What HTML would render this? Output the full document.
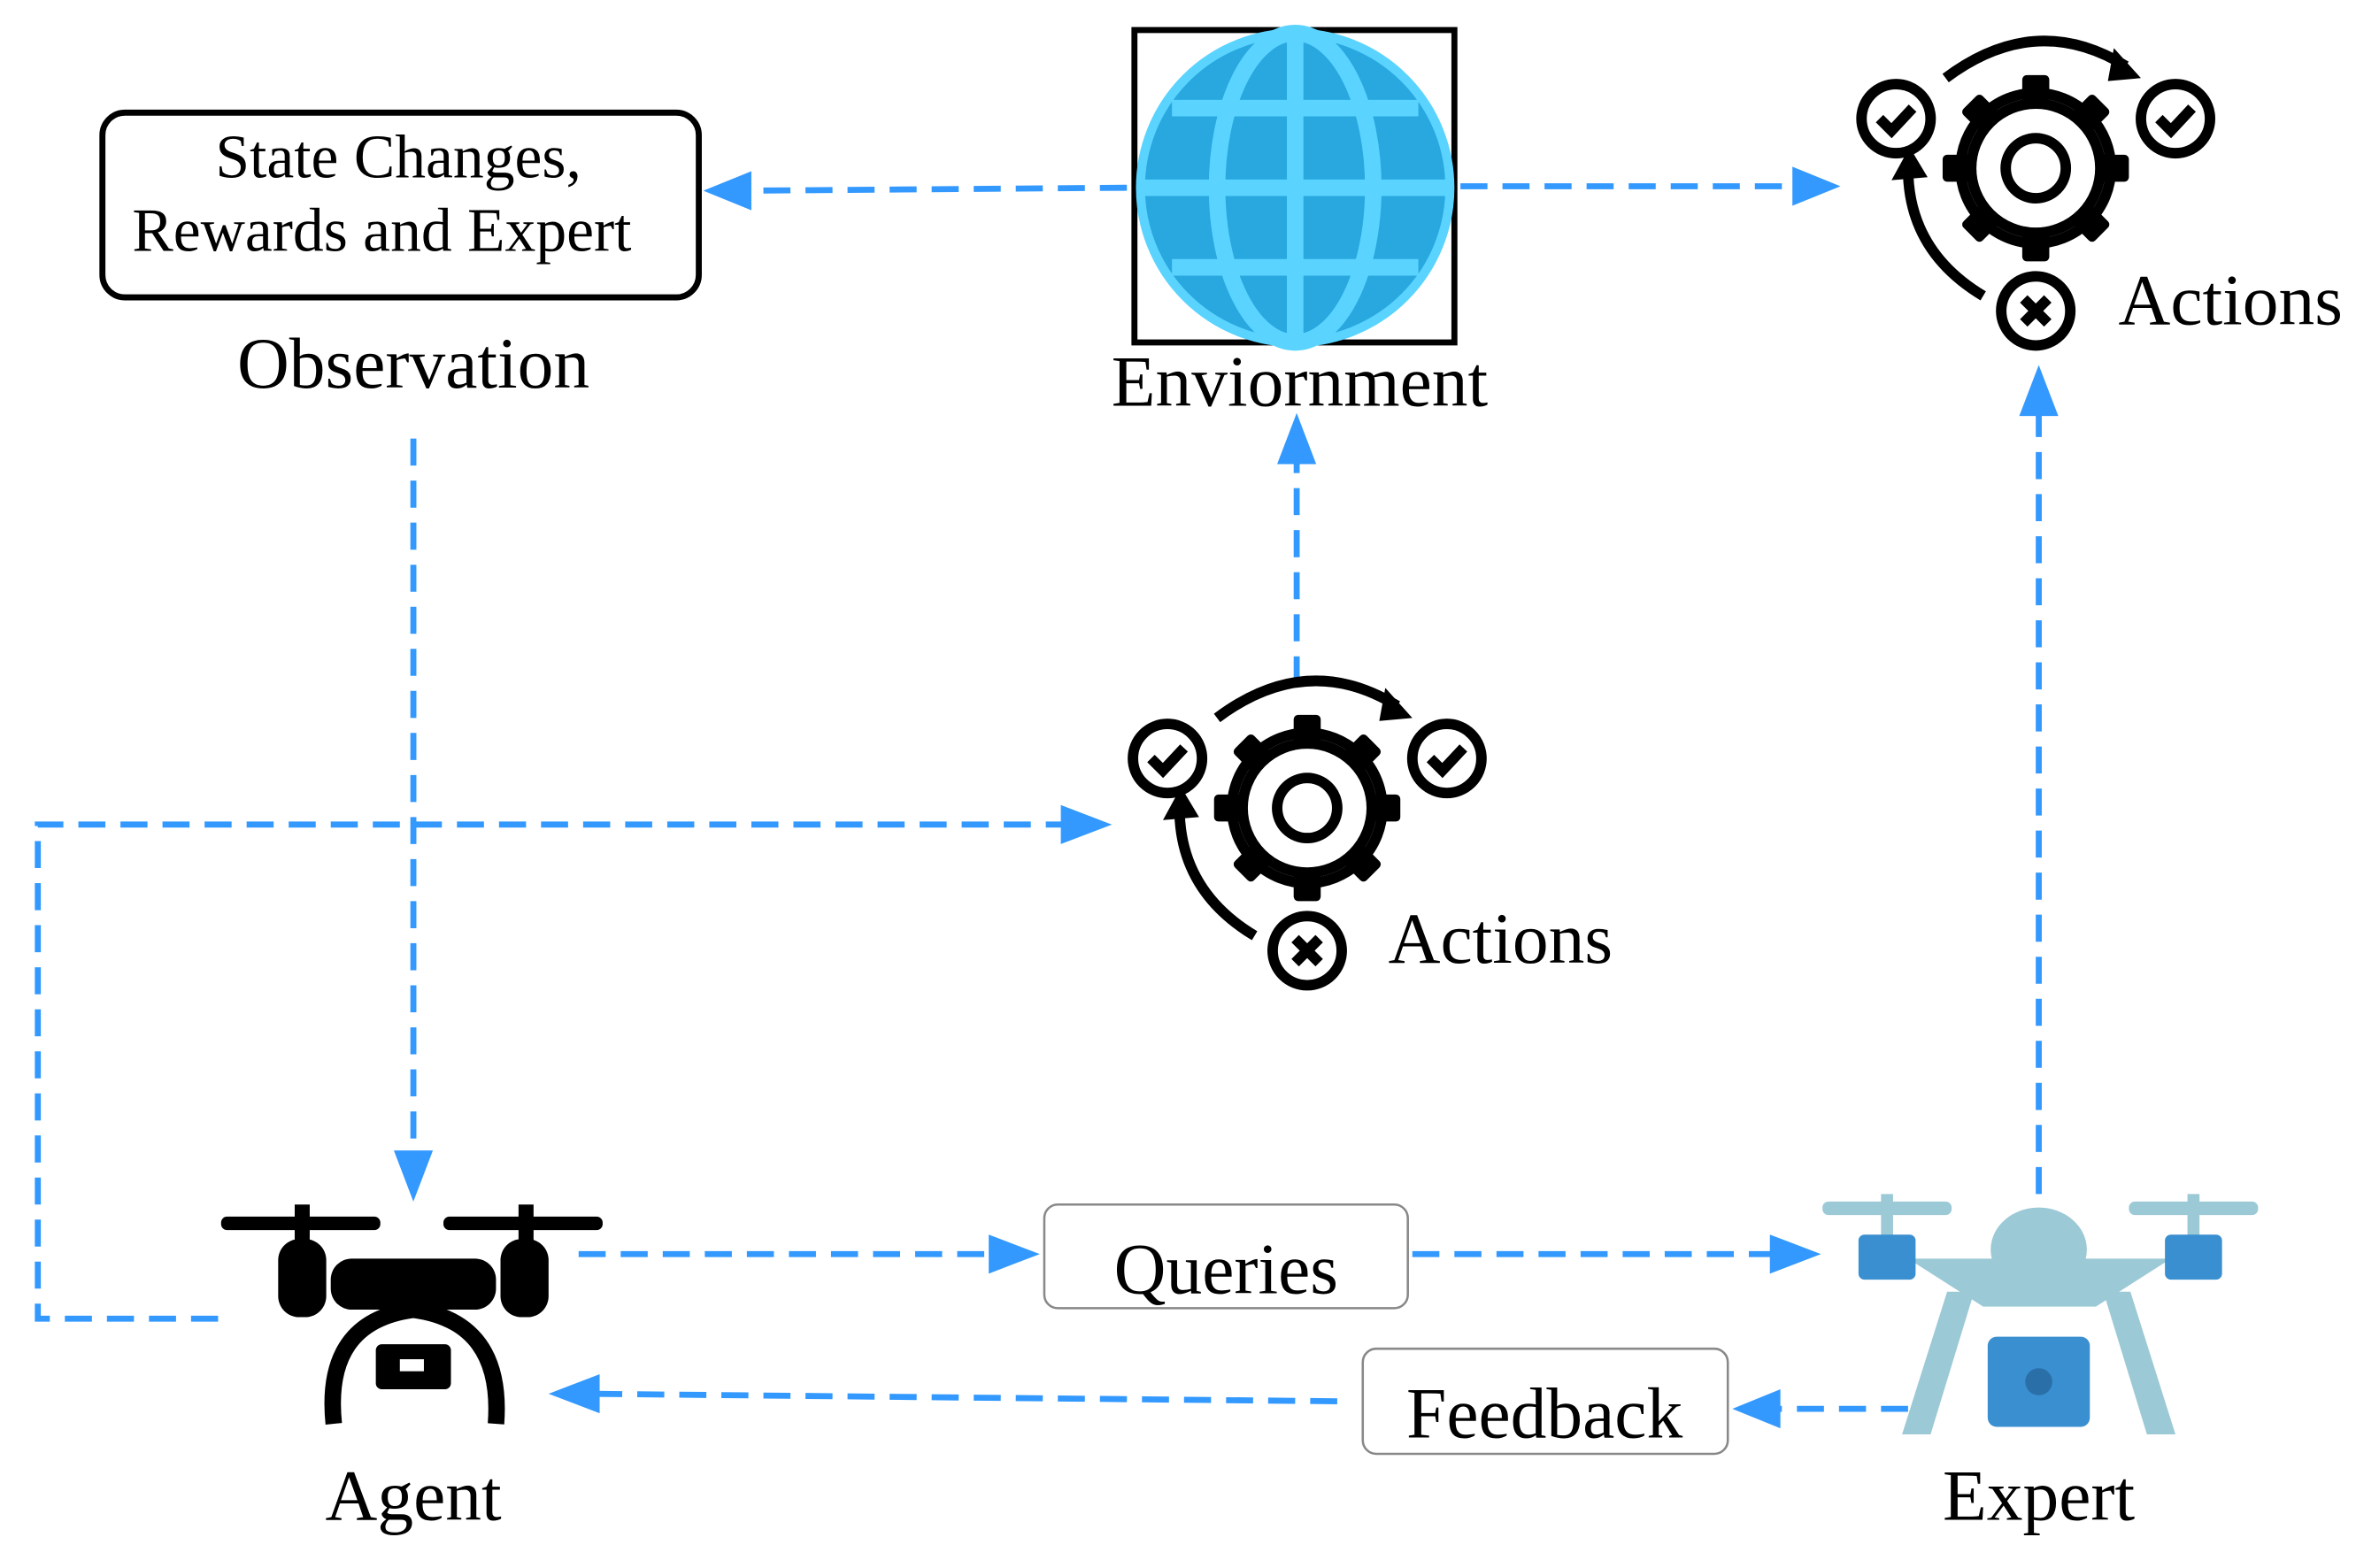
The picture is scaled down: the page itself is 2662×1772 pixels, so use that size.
<!DOCTYPE html>
<html><head><meta charset="utf-8"><style>
html,body{margin:0;padding:0;background:#fff;}
svg{display:block;}
text{font-family:"Liberation Serif",serif;fill:#000;}
</style></head><body>
<svg width="2662" height="1772" viewBox="0 0 1568 1044" xmlns="http://www.w3.org/2000/svg">
<defs>
<g id="act">
  <g fill="#000">
    <rect x="-9" y="-62" width="18" height="22" rx="3"/>
    <rect x="-9" y="-62" width="18" height="22" rx="3" transform="rotate(45)"/>
    <rect x="-9" y="-62" width="18" height="22" rx="3" transform="rotate(90)"/>
    <rect x="-9" y="-62" width="18" height="22" rx="3" transform="rotate(135)"/>
    <rect x="-9" y="-62" width="18" height="22" rx="3" transform="rotate(180)"/>
    <rect x="-9" y="-62" width="18" height="22" rx="3" transform="rotate(225)"/>
    <rect x="-9" y="-62" width="18" height="22" rx="3" transform="rotate(270)"/>
    <rect x="-9" y="-62" width="18" height="22" rx="3" transform="rotate(315)"/>
  </g>
  <circle cx="0" cy="0" r="50" fill="none" stroke="#000" stroke-width="7"/>
  <circle cx="0" cy="0" r="43" fill="#fff"/>
  <circle cx="0" cy="0" r="43" fill="none" stroke="#000" stroke-width="7"/>
  <circle cx="0" cy="0" r="20" fill="none" stroke="#000" stroke-width="7"/>
  <path d="M-60,-60 Q0,-105 60,-68" fill="none" stroke="#000" stroke-width="7"/>
  <polygon points="52,-80 70,-60 48,-58" fill="#000"/>
  <path d="M-35,85 Q-85,55 -85,0" fill="none" stroke="#000" stroke-width="7"/>
  <polygon points="-96,8 -84,-14 -72,6" fill="#000"/>
  <circle cx="-93" cy="-33" r="23" fill="#fff" stroke="#000" stroke-width="7"/>
  <path d="M-104,-33 l8,8 l14,-15" fill="none" stroke="#000" stroke-width="7"/>
  <circle cx="93" cy="-33" r="23" fill="#fff" stroke="#000" stroke-width="7"/>
  <path d="M82,-33 l8,8 l14,-15" fill="none" stroke="#000" stroke-width="7"/>
  <circle cx="0" cy="95" r="23" fill="#fff" stroke="#000" stroke-width="7"/>
  <path d="M-8,87 l16,16 M8,87 l-16,16" stroke="#000" stroke-width="7"/>
</g>
</defs>

<g stroke="#3399ff" stroke-width="4" stroke-dasharray="18,10" fill="none">
  <line x1="750" y1="125" x2="490" y2="127"/>
  <line x1="972" y1="124" x2="1200" y2="124"/>
  <line x1="1357" y1="795" x2="1357" y2="265"/>
  <line x1="863" y1="455" x2="863" y2="300"/>
  <line x1="275" y1="292" x2="275" y2="772"/>
  <polyline points="145,878 25,878 25,549 715,549"/>
  <line x1="385" y1="835" x2="665" y2="835"/>
  <line x1="940" y1="835" x2="1185" y2="835"/>
  <line x1="1270" y1="938" x2="1178" y2="938"/>
  <line x1="890" y1="933" x2="392" y2="928"/>
</g>
<g fill="#3399ff">
  <polygon points="468,127 500,114 500,140"/>
  <polygon points="1225,124 1193,111 1193,137"/>
  <polygon points="1357,243 1344,277 1370,277"/>
  <polygon points="863,275 850,309 876,309"/>
  <polygon points="275,800 262,766 288,766"/>
  <polygon points="740,549 706,536 706,562"/>
  <polygon points="692,835 658,822 658,848"/>
  <polygon points="1212,835 1178,822 1178,848"/>
  <polygon points="1153,938 1185,925 1185,951"/>
  <polygon points="365,928 399,915 399,941"/>
</g>

<rect x="68" y="75" width="397" height="123" rx="15" fill="#fff" stroke="#000" stroke-width="4"/>
<text x="265" y="118" font-size="41" text-anchor="middle">State Changes,</text>
<text x="254" y="167" font-size="41" text-anchor="middle">Rewards and Expert</text>
<text x="275" y="258" font-size="48" text-anchor="middle">Observation</text>

<rect x="755" y="20" width="213" height="208" fill="#fff" stroke="#000" stroke-width="4"/>
<circle cx="862" cy="125" r="103" fill="#29a8e0"/>
<g stroke="#5ad4ff" stroke-width="11" fill="none">
  <line x1="862" y1="22" x2="862" y2="228"/>
  <line x1="759" y1="125" x2="965" y2="125"/>
  <line x1="780" y1="72" x2="944" y2="72"/>
  <line x1="780" y1="178" x2="944" y2="178"/>
  <ellipse cx="862" cy="125" rx="52" ry="103"/>
</g>
<circle cx="862" cy="125" r="103" fill="none" stroke="#5ad4ff" stroke-width="6"/>
<text x="865" y="270" font-size="48" text-anchor="middle">Enviornment</text>

<use href="#act" transform="translate(1355,112)"/>
<text x="1410" y="216" font-size="48">Actions</text>
<use href="#act" transform="translate(870,538)"/>
<text x="924" y="641" font-size="48">Actions</text>

<g fill="#000">
  <rect x="147" y="810" width="106" height="9" rx="4"/>
  <rect x="295" y="810" width="106" height="9" rx="4"/>
  <rect x="196" y="802" width="10" height="25"/>
  <rect x="345" y="802" width="10" height="25"/>
  <rect x="185" y="825" width="32" height="52" rx="14"/>
  <rect x="333" y="825" width="32" height="52" rx="14"/>
  <rect x="220" y="838" width="110" height="34" rx="14"/>
  <rect x="250" y="895" width="50" height="30" rx="4"/>
</g>
<path d="M222,948 Q215,880 275,872 Q335,880 330,948" fill="none" stroke="#000" stroke-width="11"/>
<rect x="266" y="905" width="16" height="8" fill="#fff"/>
<text x="275" y="1012" font-size="48" text-anchor="middle">Agent</text>

<rect x="695" y="802" width="242" height="69" rx="9" fill="#fff" stroke="#888" stroke-width="1.5"/>
<text x="816" y="861" font-size="48" text-anchor="middle">Queries</text>
<rect x="907" y="898" width="243" height="70" rx="9" fill="#fff" stroke="#888" stroke-width="1.5"/>
<text x="1028" y="957" font-size="48" text-anchor="middle">Feedback</text>

<g fill="#9cc9d6">
  <rect x="1213" y="800" width="86" height="9" rx="4"/>
  <rect x="1417" y="800" width="86" height="9" rx="4"/>
  <rect x="1252" y="795" width="8" height="30"/>
  <rect x="1456" y="795" width="8" height="30"/>
  <ellipse cx="1357" cy="832" rx="32" ry="28"/>
  <polygon points="1270,838 1445,838 1395,870 1320,870"/>
  <polygon points="1296,860 1314,860 1285,955 1266,955"/>
  <polygon points="1400,860 1418,860 1448,955 1429,955"/>
</g>
<g fill="#3a8fd0">
  <rect x="1237" y="822" width="38" height="30" rx="4"/>
  <rect x="1441" y="822" width="38" height="30" rx="4"/>
  <rect x="1323" y="890" width="68" height="60" rx="6"/>
</g>
<circle cx="1357" cy="920" r="9" fill="#2a6fa8"/>
<text x="1357" y="1012" font-size="48" text-anchor="middle">Expert</text>
</svg>
</body></html>
